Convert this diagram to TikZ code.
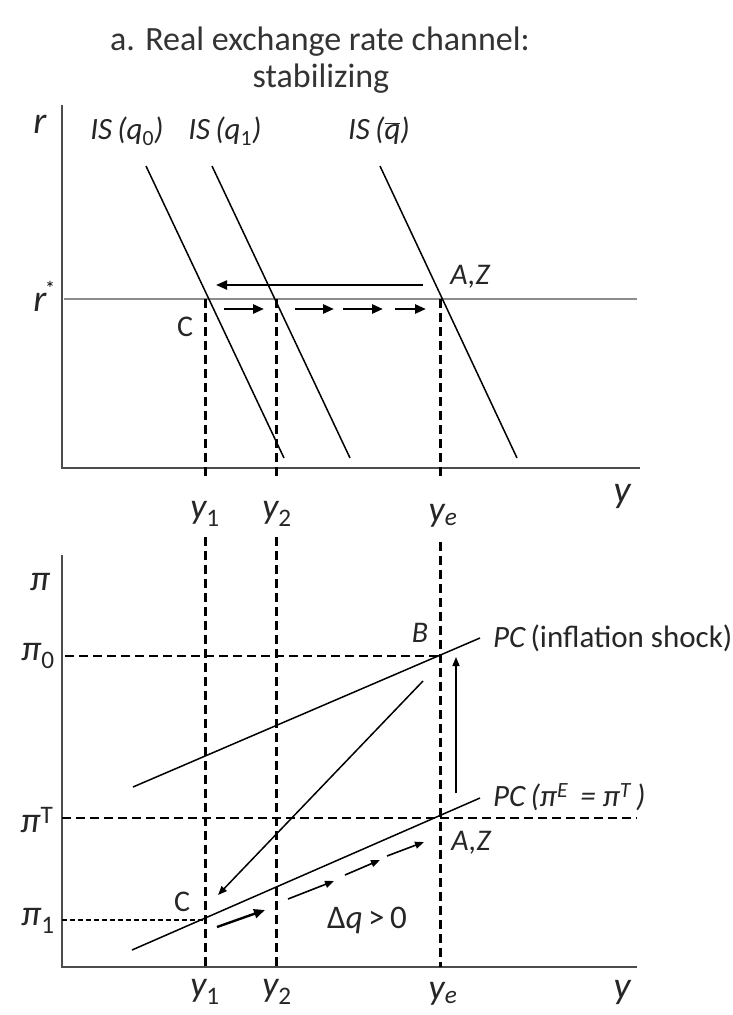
\documentclass[tikz,border=0pt]{standalone}
\usepackage{fontspec}
\setmainfont{Carlito}
\usetikzlibrary{arrows.meta}
\begin{document}
\begin{tikzpicture}[x=1pt,y=-1pt,
  axisline/.style={line width=1.8pt,draw=black!70},
  curve/.style={line width=1.5pt,draw=black},
  vdash/.style={line width=3pt,dash pattern=on 9pt off 5pt},
  hdash/.style={line width=2.4pt,dash pattern=on 9pt off 5pt},
  ddash/.style={line width=2.4pt,dash pattern=on 5pt off 3pt},
  tip/.style={-{Triangle[length=11pt,width=9pt]}},
  smalltip/.style={-{Triangle[length=9pt,width=7pt]}},
  lbl/.style={inner sep=0pt,text=black!85,font=\fontsize{31}{33}\selectfont\itshape},
  ylbl/.style={inner sep=0pt,text=black!85,font=\fontsize{36}{38}\selectfont\itshape},
  axlbl/.style={inner sep=0pt,text=black!85,font=\fontsize{38}{40}\selectfont\itshape},
  pilbl/.style={inner sep=0pt,text=black!85,font=\fontsize{36}{38}\selectfont\itshape},
  pt/.style={inner sep=0pt,text=black!85,font=\fontsize{30}{32}\selectfont},
  ptit/.style={inner sep=0pt,text=black!85,font=\fontsize{30}{32}\selectfont\itshape},
  ttl/.style={inner sep=0pt,text=black!80,font=\fontsize{34}{37}\selectfont}]
\useasboundingbox (0,0) rectangle (732,1015);
% title
\node[ttl] (t1) at (320,42) {a. Real exchange rate channel:};
\node[ttl] (t2) at (321,79) {stabilizing};
% ---------- top panel ----------
\coordinate (a1) at (62,105);
\coordinate (o1) at (62,468);
\coordinate (e1) at (640,468);
\draw[axisline] (a1) -- (o1) -- (e1);
\coordinate (rs0) at (64,299);
\coordinate (rs1) at (637,299);
\draw[line width=1.8pt,draw=black!45] (rs0) -- (rs1);
\coordinate (is0a) at (146,166); \coordinate (is0b) at (284,458);
\coordinate (is1a) at (212,166); \coordinate (is1b) at (350,458);
\coordinate (isea) at (380,166); \coordinate (iseb) at (517,458);
\draw[curve] (is0a) -- (is0b);
\draw[curve] (is1a) -- (is1b);
\draw[curve] (isea) -- (iseb);
\node[axlbl] (rl) at (40,124) {r};
\node[axlbl] (rsl) at (40,302) {r};
\node[inner sep=0pt,font=\fontsize{20}{20}\selectfont] (star) at (50,288) {*};
\node[lbl] (lis0) at (127,131) {IS\,(q\textsubscript{\upshape 0})};
\node[lbl] (lis1) at (225,131) {IS\,(q\textsubscript{\upshape 1})};
\node[lbl] (lise) at (379,131) {IS\,($\overline{\hbox{\itshape q}}$)};
% left arrow
\coordinate (la0) at (423,285); \coordinate (la1) at (216,285);
\draw[line width=2.2pt,tip] (la0) -- (la1);
% right dashed arrows
\coordinate (ra0) at (224,309); \coordinate (ra1) at (264,309);
\coordinate (ra2) at (295,309); \coordinate (ra3) at (334,309);
\coordinate (ra4) at (343,309); \coordinate (ra5) at (383,309);
\coordinate (ra6) at (395,309); \coordinate (ra7) at (426,309);
\draw[line width=2.6pt,tip] (ra0) -- (ra1);
\draw[line width=2.6pt,tip] (ra2) -- (ra3);
\draw[line width=2.6pt,tip] (ra4) -- (ra5);
\draw[line width=2.6pt,tip] (ra6) -- (ra7);
\node[pt] (ct) at (185,327) {C};
\node[ptit] (azt) at (470,277) {A,Z};
% verticals top
\coordinate (v1a) at (205,299); \coordinate (v1b) at (205,476);
\coordinate (v2a) at (276,299); \coordinate (v2b) at (276,476);
\coordinate (v3a) at (440,299); \coordinate (v3b) at (440,476);
\draw[vdash] (v1a) -- (v1b);
\draw[vdash] (v2a) -- (v2b);
\draw[vdash] (v3a) -- (v3b);
\node[ylbl] (y1t) at (205,514) {y\textsubscript{\upshape 1}};
\node[ylbl] (y2t) at (277,514) {y\textsubscript{\upshape 2}};
\node[ylbl] (yet) at (443,516) {y\textsubscript{e}};
\node[axlbl] (yt) at (622,496) {y};
% ---------- bottom panel ----------
\coordinate (a2) at (62,555);
\coordinate (o2) at (62,967);
\coordinate (e2) at (637,967);
\draw[axisline] (a2) -- (o2) -- (e2);
\coordinate (w1a) at (205,537); \coordinate (w1b) at (205,967);
\coordinate (w2a) at (276,537); \coordinate (w2b) at (276,967);
\coordinate (w3a) at (440,542); \coordinate (w3b) at (440,967);
\draw[vdash] (w1a) -- (w1b);
\draw[vdash] (w2a) -- (w2b);
\draw[vdash] (w3a) -- (w3b);
\coordinate (p0a) at (65,656); \coordinate (p0b) at (440,656);
\coordinate (pta) at (62,818); \coordinate (ptb) at (637,818);
\coordinate (p1a) at (62,920); \coordinate (p1b) at (205,920);
\draw[hdash] (p0a) -- (p0b);
\draw[hdash] (pta) -- (ptb);
\draw[ddash] (p1a) -- (p1b);
\coordinate (pcsa) at (133,787); \coordinate (pcsb) at (480,638);
\coordinate (pcna) at (132,950); \coordinate (pcnb) at (480,798);
\draw[curve] (pcsa) -- (pcsb);
\draw[curve] (pcna) -- (pcnb);
% up arrow
\coordinate (ua0) at (456,793); \coordinate (ua1) at (456,657);
\draw[line width=1.5pt,smalltip] (ua0) -- (ua1);
% diagonal arrow
\coordinate (da0) at (423,681); \coordinate (da1) at (218,895);
\draw[line width=1.5pt,smalltip] (da0) -- (da1);
% arrows along PC
\coordinate (qa0) at (217,927); \coordinate (qa1) at (265,910);
\coordinate (qa2) at (288,899); \coordinate (qa3) at (334,881);
\coordinate (qa4) at (345,875); \coordinate (qa5) at (380,860);
\coordinate (qa6) at (387,856); \coordinate (qa7) at (424,842);
\draw[line width=2.4pt,tip] (qa0) -- (qa1);
\draw[line width=1.6pt,smalltip] (qa2) -- (qa3);
\draw[line width=1.6pt,smalltip] (qa4) -- (qa5);
\draw[line width=1.6pt,smalltip] (qa6) -- (qa7);
% labels bottom
\node[pilbl] (pil) at (40,582) {π};
\node[pilbl] (pi0) at (38,656) {π\textsubscript{\upshape 0}};
\node[pilbl] (piT) at (37,820) {π\textsuperscript{\upshape T}};
\node[pilbl] (pi1) at (38,921) {π\textsubscript{\upshape 1}};
\node[ptit] (bl) at (420,633) {B};
\node[lbl,anchor=west] (pcs) at (493,638) {PC\,{\upshape(inflation shock)}};
\node[lbl,anchor=west] (pcn) at (493,797) {PC\,(π\textsuperscript{E}\, = π\textsuperscript{T}\,)};
\node[ptit] (azb) at (471,843) {A,Z};
\node[pt] (cb) at (182,902) {C};
\node[pt,font=\fontsize{33}{35}\selectfont] (dq) at (367,920) {Δ\textit{q}\,>\,0};
\node[ylbl] (y1b) at (205,992) {y\textsubscript{\upshape 1}};
\node[ylbl] (y2b) at (277,992) {y\textsubscript{\upshape 2}};
\node[ylbl] (yeb) at (443,994) {y\textsubscript{e}};
\node[axlbl] (yb) at (622,992) {y};
\end{tikzpicture}
\end{document}
